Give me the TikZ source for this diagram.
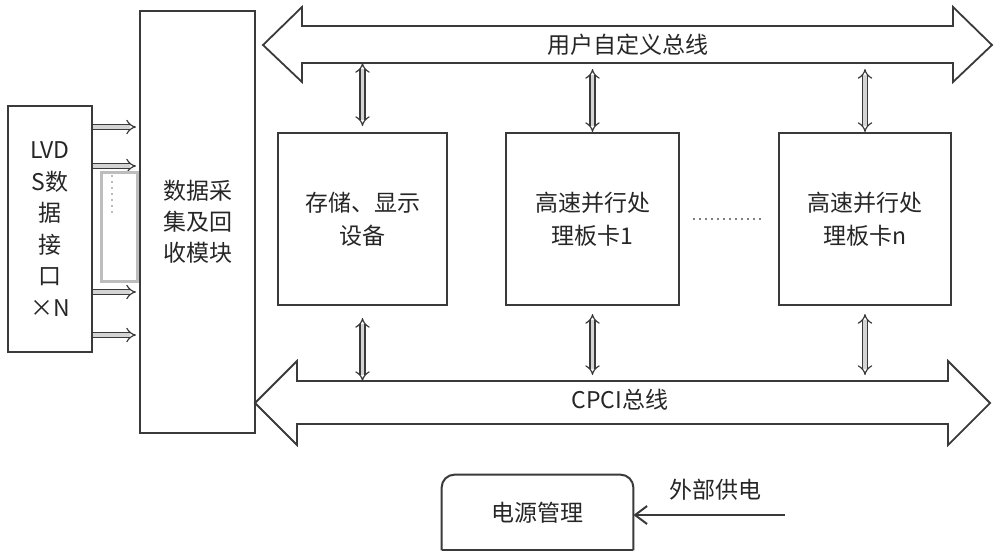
\documentclass[tikz,border=0pt]{standalone}
\usepackage{fontspec}
\usepackage{xcolor}
\usepackage{tikz}
\usetikzlibrary{arrows.meta, positioning}
\newfontfamily\cjk{Noto Sans CJK SC}
\definecolor{boxline}{HTML}{3A3A3A}
\definecolor{linkfill}{HTML}{D4D4D4}
\definecolor{slotgray}{HTML}{BDBDBD}

\begin{document}
\begin{tikzpicture}[
    x=0.5pt, y=-0.5pt,
    every node/.style={font=\cjk\fontsize{11.5}{15.8}\selectfont, text=black!85},
    block/.style={draw=boxline, line width=1pt, align=center, inner sep=0pt},
    card/.style={block, minimum width=86pt, minimum height=86pt, font=\cjk\fontsize{11.5}{16.5}\selectfont},
    bus/.style={draw=boxline, line width=0.9pt},
    link/.style={draw=boxline, line width=0.6pt, double=linkfill, double distance=1.9pt, >={Implies}, <->},
    feed/.style={link, ->},
  ]
    \useasboundingbox (0,0) rectangle (1000,559);

    % side modules
    \node[block, minimum width=42pt, minimum height=123pt] (lvds) at (50,229)
      {LVD\\S数\\据\\接\\口\\×N};
    \node[block, minimum width=57.5pt, minimum height=211pt, font=\cjk\fontsize{11.5}{15.5}\selectfont] (collector) at (197.5,222)
      {数据采\\集及回\\收模块};

    % processing cards
    \node[card, minimum width=84.5pt] (storage) at (362.5,219) {存储、显示\\设备};
    \node[card, minimum width=86.5pt, right=28.5pt of storage] (card1) {高速并行处\\理板卡1};
    \node[card, right=49pt of card1] (cardn) {高速并行处\\理板卡n};

    % buses
    \draw[bus] (263,45) -- (302,7) -- (302,26) -- (953,26) -- (953,7) -- (992,45)
      -- (953,82) -- (953,63) -- (302,63) -- (302,82) -- cycle;
    \coordinate (ubus-bot) at (0,63);
    \node (ubus) at (628,45) {用户自定义总线};

    \draw[bus] (255,403) -- (297,361) -- (297,381) -- (948,381) -- (948,361) -- (990,403)
      -- (948,445) -- (948,424) -- (297,424) -- (297,445) -- cycle;
    \coordinate (cbus-top) at (0,381);
    \node (cbus) at (620,400) {CPCI总线};

    % bus links
    \draw[link, shorten >=3pt] (ubus-bot -| storage.north) -- (storage.north);
    \draw[link, shorten <=6pt] (storage.south) -- (cbus-top -| storage.south);
    \foreach \c in {card1, cardn} {
      \draw[link, shorten <=3pt] (ubus-bot -| \c.north) -- (\c.north);
      \draw[link, shorten <=4pt, shorten >=3pt] (\c.south) -- (cbus-top -| \c.south);
    }
    \draw[gray, dotted, line width=1pt, shorten <=6.5pt, shorten >=7.5pt] (card1) -- (cardn);

    % lvds channels
    \foreach \y in {127,166,292,335}
      \draw[feed, shorten >=1.5pt] (lvds.east |- 0,\y) -- (collector.west |- 0,\y);
    \draw[slotgray, line width=1.5pt] (101,172) rectangle (137,281);
    \draw[slotgray, dotted, line width=1pt] (112,175) -- (112,215);

    % power
    \node[minimum width=95.5pt, minimum height=37.5pt] (power) at (537.5,512.5) {电源管理};
    \draw[boxline, line width=1pt, rounded corners=6.5pt] (power.south west) -- (power.north west)
      -- (power.north east) -- (power.south east);
    \draw[boxline, line width=1pt] (power.south west) -- (power.south east);
    \coordinate (mains) at (785,515);
    \draw[boxline, line width=1pt, -{Straight Barb[length=6pt, width=9pt]}] (mains) -- (power.east |- mains);
    \node (supply) at (715,490) {外部供电};
  \end{tikzpicture}
\end{document}
